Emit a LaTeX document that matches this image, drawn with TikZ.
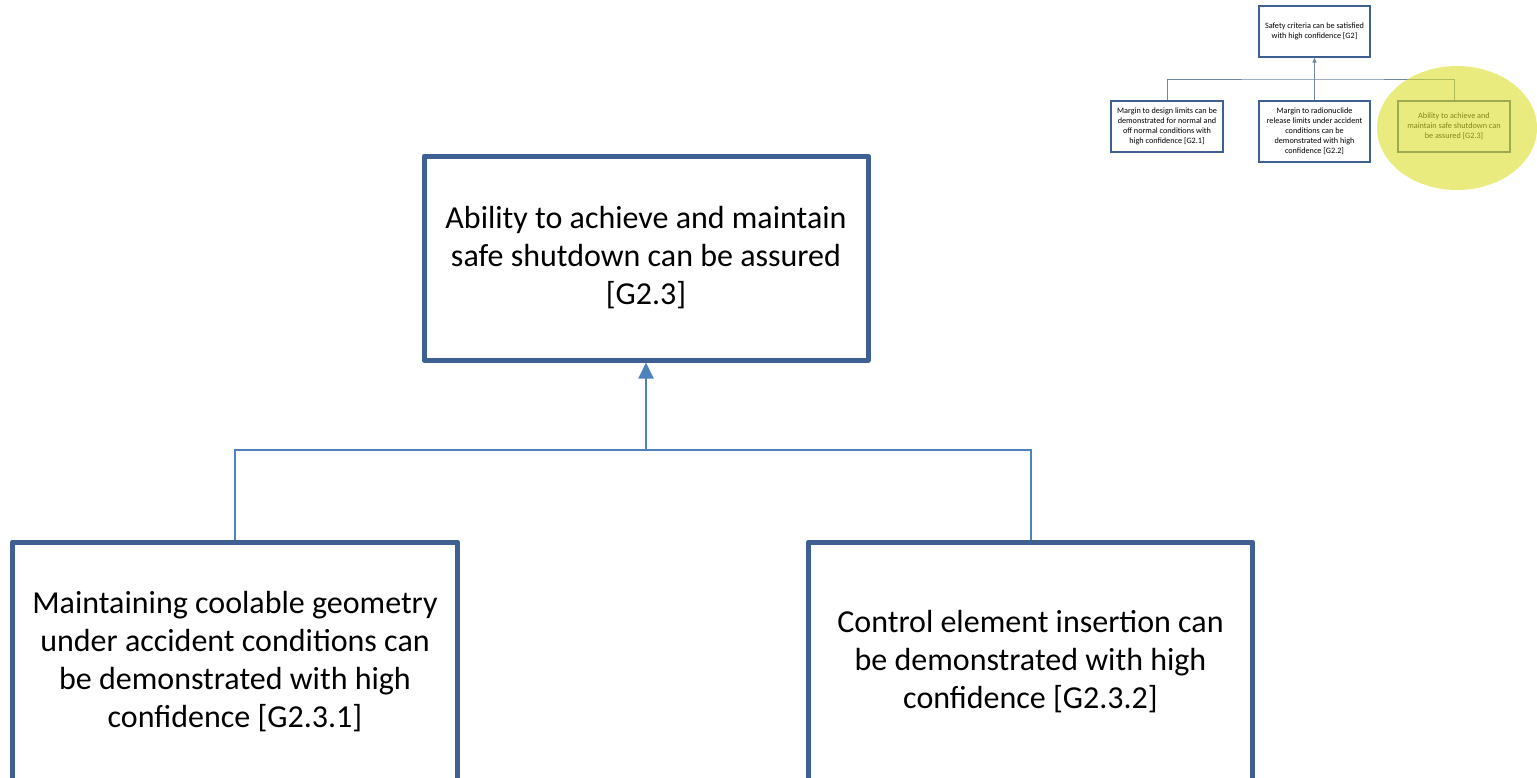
\documentclass[tikz,border=0pt]{standalone}
\usepackage{fontspec}
\setmainfont{Carlito}
\usetikzlibrary{arrows.meta,positioning,shapes.geometric}
\definecolor{boxblue}{RGB}{62,96,146}
\definecolor{linkblue}{RGB}{79,129,189}
\definecolor{linkgrey}{RGB}{110,135,165}
\definecolor{hiyellow}{RGB}{220,222,40}
\tikzset{
  bigbox/.style={draw=boxblue, line width=5pt, line join=round, fill=white, align=center, inner sep=0pt, font=\fontsize{32}{38}\selectfont},
  smallbox/.style={draw=boxblue, line width=1.2pt, fill=white, align=center, inner sep=0pt, font=\fontsize{8.2}{10}\selectfont},
  link/.style={draw=linkblue, line width=2pt},
  smalllink/.style={draw=linkgrey, line width=1pt},
}

\begin{document}
\begin{tikzpicture}[x=1pt,y=-1pt,>={Triangle[length=16pt,width=15pt]}]
	\useasboundingbox (0,0) rectangle (1537,777);

	% zoomed part of the tree
	\node[bigbox, minimum width=444pt, minimum height=204pt] (g23) at (646,258) {Ability to achieve and maintain\\safe shutdown can be assured\\{[G2.3]}};
	\node[bigbox, minimum width=445pt, minimum height=239pt] (g231) at (235,661.5) {Maintaining coolable geometry\\under accident conditions can\\be demonstrated with high\\confidence [G2.3.1]};
	\node[bigbox, minimum width=444pt, minimum height=239pt] (g232) at (1030.5,661.5) {Control element insertion can\\be demonstrated with high\\confidence [G2.3.2]};
	\coordinate (bus) at (646,450);
	\draw[link] (g231.north) |- (bus) -| (g232.north); \draw[link,->] (bus) -- (g23.south);

	% overview of the tree
	\node[smallbox, minimum width=111pt, minimum height=51pt] (g2) at (1314.5,31.5) {Safety criteria can be satisfied\\with high confidence [G2]};
	\node[smallbox, minimum width=112pt, minimum height=51pt] (g21) at (1167,126.5) {Margin to design limits can be\\demonstrated for normal and\\off normal conditions with\\high confidence [G2.1]};
	\node[smallbox, minimum width=111pt, minimum height=61pt] (g22) at (1314.5,131.5) {Margin to radionuclide\\release limits under accident\\conditions can be\\demonstrated with high\\confidence [G2.2]};
	\node[smallbox, minimum width=112pt, minimum height=51pt] (g23s) at (1454,126.5) {Ability to achieve and\\maintain safe shutdown can\\be assured [G2.3]};
	\coordinate (sbus) at (1314.5,79);
	\draw[smalllink] (g21.north) |- (sbus) -| (g23s.north); \draw[smalllink] (g22.north) -- (sbus);
	\draw[smalllink,-{Triangle[length=5pt,width=4pt]}] (sbus) -- (g2.south);
	\node[ellipse, fill=hiyellow, fill opacity=0.6, minimum width=160pt, minimum height=124pt, inner sep=0pt] (spot) at (1457,128) {};
\end{tikzpicture}
\end{document}
